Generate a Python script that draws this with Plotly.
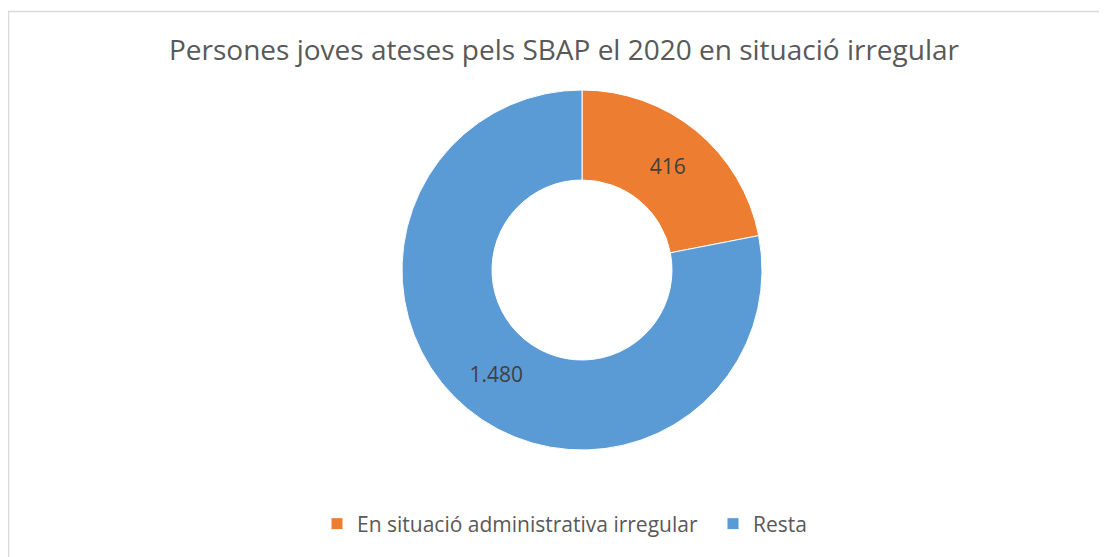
import plotly.graph_objects as go

labels = ["En situació administrativa irregular", "Resta"]
values = [416, 1480]
colors = ["#ED7D31", "#5B9BD5"]
title_text = "Persones joves ateses pels SBAP el 2020 en situació irregular"

# page body has an 8px margin; figure sized to fit the window
W, H = 1099, 549
cx, cy, R = 574, 262, 180

fig = go.Figure(go.Pie(
    labels=labels,
    values=values,
    hole=0.5,
    sort=False,
    direction="clockwise",
    rotation=0,
    marker=dict(colors=colors, line=dict(color="white", width=1)),
    texttemplate="%{value:,}",
    textposition="inside",
    insidetextorientation="horizontal",
    textfont=dict(family="Open Sans", size=21, color="#404040"),
    domain=dict(x=[(cx - R) / W, (cx + R) / W], y=[(H - cy - R) / H, (H - cy + R) / H]),
    hoverinfo="label+value",
))

fig.update_layout(
    width=W, height=H,
    margin=dict(l=0, r=0, t=0, b=0, autoexpand=False),
    paper_bgcolor="white",
    separators=",.",
    title=dict(text=title_text, x=556 / W, xanchor="center", y=1 - 42 / H, yanchor="middle",
               font=dict(family="Open Sans", size=28, color="#595959")),
    legend=dict(orientation="h", x=309 / W, xanchor="left", y=1 - 516 / H, yanchor="middle",
                font=dict(family="Open Sans", size=21, color="#595959"),
                entrywidth=351, entrywidthmode="pixels",
                itemclick=False, traceorder="normal"),
    shapes=[dict(type="rect", xref="paper", yref="paper",
                 x0=0.5 / W, x1=1098 / W, y0=-0.05, y1=1 - 3.5 / H,
                 line=dict(color="#d9d9d9", width=1.5), fillcolor="rgba(0,0,0,0)", layer="below")],
)

fig.write_html("out.html")
